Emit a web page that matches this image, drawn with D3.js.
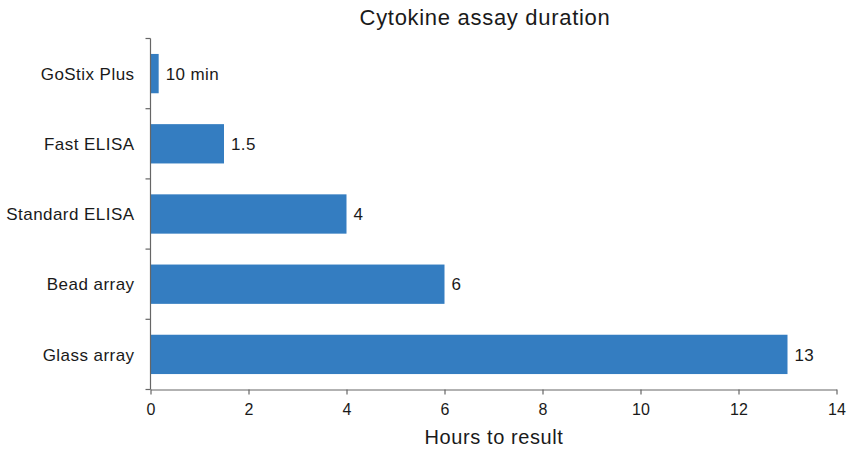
<!DOCTYPE html>
<html>
<head>
<meta charset="utf-8">
<script src="https://cdn.jsdelivr.net/npm/d3@7"></script>
<style>
  body { margin: 0; background: #fff; }
  svg text { font-family: "Liberation Sans", Arial, sans-serif; fill: #1a1a1a; }
</style>
</head>
<body>
<svg id="chart" width="848" height="452"></svg>
<script>
// data
var categories = ['GoStix Plus', 'Fast ELISA', 'Standard ELISA', 'Bead array', 'Glass array'];
var hours = [10 / 60, 1.5, 4, 6, 13];
var valueLabels = ['10 min', '1.5', '4', '6', '13'];
var xTicks = [0, 2, 4, 6, 8, 10, 12, 14];

(function() {
    var svg = d3.select('#chart');
    var mLeft = 150.5, mRight = 836.5, mTop = 38.5, mBottom = 389.5;

    var x = d3.scaleLinear().domain([0, 14]).range([mLeft, mRight]);
    var y = d3.scaleBand().domain(categories).range([mTop, mBottom]).paddingInner(0.44).paddingOuter(0.22);

    // bars
    svg.selectAll('rect.bar')
        .data(categories)
        .enter().append('rect')
        .attr('class', 'bar')
        .attr('x', x(0))
        .attr('y', function(d) { return y(d); })
        .attr('width', function(d, i) { return x(hours[i]) - x(0); })
        .attr('height', y.bandwidth())
        .attr('fill', '#347dc1');

    // value labels
    svg.selectAll('text.val')
        .data(categories)
        .enter().append('text')
        .attr('class', 'val')
        .attr('x', function(d, i) { return x(hours[i]) + 7; })
        .attr('y', function(d) { return y(d) + y.bandwidth() / 2; })
        .attr('dy', '0.36em')
        .style('font-size', '17px')
        .style('letter-spacing', '0.4px')
        .text(function(d, i) { return valueLabels[i]; });

    // x axis
    var xAxis = svg.append('g')
        .attr('transform', 'translate(0,' + mBottom + ')')
        .call(d3.axisBottom(x).tickValues(xTicks).tickSize(5).tickPadding(9).tickSizeOuter(0));
    xAxis.selectAll('text').style('font-size', '16px').attr('fill', '#1a1a1a');
    xAxis.selectAll('line, path').attr('stroke', '#666').attr('stroke-width', 1.2);

    // y axis: ticks between bands
    var yEdges = d3.range(categories.length + 1).map(function(i) {
        return mTop + i * (mBottom - mTop) / categories.length;
    });
    var yAxis = svg.append('g');
    yAxis.append('line')
        .attr('x1', mLeft).attr('x2', mLeft).attr('y1', mTop).attr('y2', mBottom);
    yAxis.selectAll('line.tk')
        .data(yEdges)
        .enter().append('line')
        .attr('class', 'tk')
        .attr('x1', mLeft - 5).attr('x2', mLeft)
        .attr('y1', function(d) { return d; }).attr('y2', function(d) { return d; });
    yAxis.selectAll('line').attr('stroke', '#666').attr('stroke-width', 1.2);

    yAxis.selectAll('text.cat')
        .data(categories)
        .enter().append('text')
        .attr('class', 'cat')
        .attr('x', mLeft - 16)
        .attr('y', function(d) { return y(d) + y.bandwidth() / 2; })
        .attr('dy', '0.36em')
        .attr('text-anchor', 'end')
        .style('font-size', '17px')
        .style('letter-spacing', '0.45px')
        .text(function(d) { return d; });

    // title and axis label
    svg.append('text')
        .attr('x', 485).attr('y', 25)
        .attr('text-anchor', 'middle')
        .style('font-size', '22px')
        .style('letter-spacing', '0.7px')
        .text('Cytokine assay duration');

    svg.append('text')
        .attr('x', 494).attr('y', 444)
        .attr('text-anchor', 'middle')
        .style('font-size', '20px')
        .style('letter-spacing', '0.6px')
        .text('Hours to result');
})();
</script>
</body>
</html>
